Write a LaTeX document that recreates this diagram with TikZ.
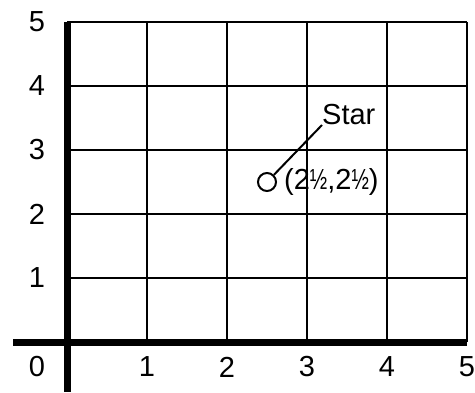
\documentclass[tikz,border=0pt]{standalone}
\usepackage{fontspec}
\usepackage{graphicx}
\setmainfont{Liberation Sans}
\newcommand{\myhalf}{\scalebox{0.72}[1]{½}}
\begin{document}
\begin{tikzpicture}[x=1pt,y=1pt,
  lbl/.style={inner sep=0pt,font=\fontsize{29}{29}\selectfont},
  gridline/.style={line width=2.6pt},
  axisline/.style={line width=7pt},
  dot/.style={circle,draw,line width=2pt,minimum size=18pt,inner sep=0pt,fill=white}]
\useasboundingbox (0,0) rectangle (475,392);
% grid
\foreach \i in {1,...,5} {
  \draw[gridline] ({67+80*\i},50) -- ({67+80*\i},370);
  \draw[gridline] (67,{50+64*\i}) -- (467,{50+64*\i});
}
% axes
\coordinate (ytop) at (67,370);
\coordinate (ybot) at (67,0);
\coordinate (xl) at (13,50);
\coordinate (xr) at (467,50);
\draw[axisline] (ytop) -- (ybot);
\draw[axisline] (xl) -- (xr);
% labels
\node[lbl] (l0) at (37,25) {0};
\foreach \i in {1,...,5} {
  \node[lbl] (x\i) at ({67+80*\i},25) {\i};
  \node[lbl] (y\i) at (37,{50+64*\i}) {\i};
}
% point
\node[dot] (pt) at (267,210) {};
\node[lbl,anchor=base west] (star) at (322,267) {Star};
\node[lbl,anchor=base west] (coord) at (284,203) {(2\myhalf,2\myhalf)};
\draw[line width=2pt] (pt) -- (star.base west);
\end{tikzpicture}
\end{document}
